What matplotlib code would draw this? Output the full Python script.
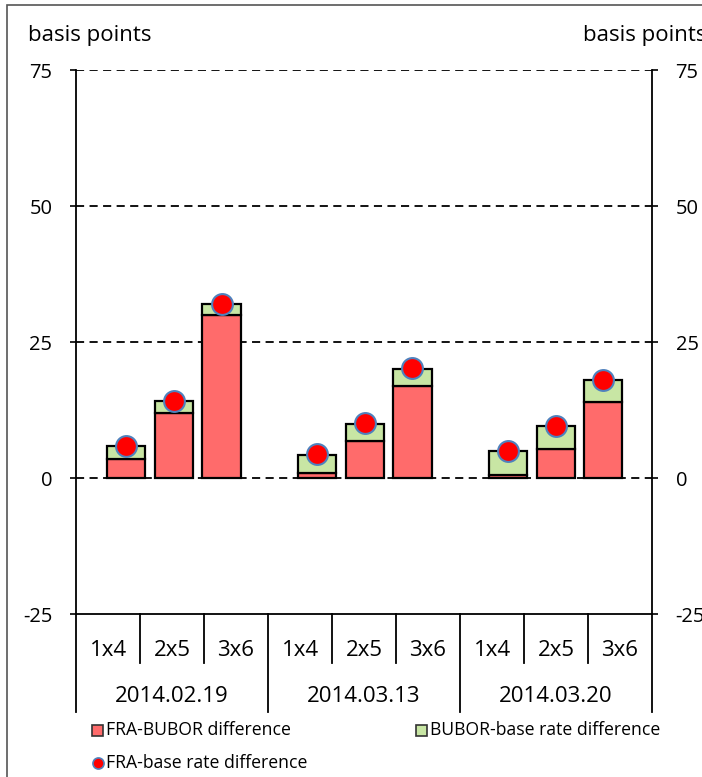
import numpy as np
import matplotlib
matplotlib.use('Agg')
import matplotlib.pyplot as plt
from matplotlib.patches import Rectangle
from matplotlib.lines import Line2D

plt.rcParams['font.family'] = ['Open Sans', 'DejaVu Sans']
plt.rcParams['axes.unicode_minus'] = False

# data (basis points)
tenors = ['1x4', '2x5', '3x6', '1x4', '2x5', '3x6', '1x4', '2x5', '3x6']
dates = ['2014.02.19', '2014.03.13', '2014.03.20']
fra_bubor = [3.5, 12.0, 29.9, 1.0, 6.8, 16.9, 0.6, 5.4, 13.9]
bubor_base = [2.3, 2.2, 2.1, 3.3, 3.2, 3.2, 4.3, 4.1, 4.1]
fra_base = [5.8, 14.2, 32.0, 4.4, 10.1, 20.2, 4.9, 9.6, 18.1]
yticks = [-25, 0, 25, 50, 75]

red = '#FF6B6B'
green = '#C8E6A4'
dot_edge = '#4F81BD'

W, H = 702, 777
fig = plt.figure(figsize=(W / 100, H / 100), dpi=100)

# axes box in pixels: x 76..652, y 70..614
ax = fig.add_axes([76 / W, 1 - 614 / H, (652 - 76) / W, (614 - 70) / H])

# bars sit on slots with an empty slot before every group
pos = np.array([0, 1, 2, 4, 5, 6, 8, 9, 10])
ax.bar(pos, fra_bubor, width=0.8, color=red, edgecolor='black', linewidth=1.6, zorder=2)
ax.bar(pos, bubor_base, width=0.8, bottom=fra_bubor, color=green, edgecolor='black',
       linewidth=1.6, zorder=2)
ax.plot(pos, fra_base, 'o', color='#FF0000', markersize=15, markeredgecolor=dot_edge,
        markeredgewidth=1.5, zorder=3)

ax.set_xlim(-1.05, 11.02)
ax.set_ylim(-25, 75)

for y in yticks[1:]:
    ax.axhline(y, color='black', linewidth=1.3, linestyle=(0, (4.5, 3)), zorder=1)

ax.set_yticks(yticks)
ax.set_xticks([])
ax.tick_params(axis='y', which='both', direction='out', length=4, width=1.2,
               labelsize=14.5, left=True, right=True, labelleft=True, labelright=True,
               pad=13)
ax.spines['top'].set_visible(False)
for s in ['left', 'right', 'bottom']:
    ax.spines[s].set_linewidth(1.3)

# category table under the axis
short_y = -(663 - 614) / 544
long_y = -(712 - 614) / 544
for k in range(10):
    yb = long_y if k % 3 == 0 else short_y
    ax.add_line(Line2D([k / 9, k / 9], [0, yb], transform=ax.transAxes, color='black',
                       linewidth=1.3, clip_on=False))
for k, t in enumerate(tenors):
    ax.text((k + 0.5) / 9, -(650 - 614) / 544, t, transform=ax.transAxes,
            ha='center', va='center', fontsize=16)
for g, d in enumerate(dates):
    ax.text((3 * g + 1.5) / 9, -(697 - 614) / 544, d, transform=ax.transAxes,
            ha='center', va='center', fontsize=16)

# axis titles
fig.text(28 / W, 1 - 36 / H, 'basis points', ha='left', va='center', fontsize=16)
fig.text(583 / W, 1 - 36 / H, 'basis points', ha='left', va='center', fontsize=16)

# outer frame
fig.add_artist(Rectangle((7 / W, -0.1), 2, 1 - 5 / H + 0.1, transform=fig.transFigure,
                         fill=False, edgecolor='#555555', linewidth=1.2))

# legend drawn by hand
def square(x, y, color):
    fig.add_artist(Rectangle((x / W, 1 - (y + 5.5) / H), 11 / W, 11 / H,
                             transform=fig.transFigure, facecolor=color,
                             edgecolor='#333333', linewidth=1.2))

square(92, 730, red)
fig.text(106 / W, 1 - 730 / H, 'FRA-BUBOR difference', ha='left', va='center', fontsize=12.7)
square(416, 730, green)
fig.text(430 / W, 1 - 730 / H, 'BUBOR-base rate difference', ha='left', va='center', fontsize=12.7)
fig.add_artist(Line2D([97.5 / W], [1 - 763 / H], transform=fig.transFigure, marker='o',
                      color='#FF0000', markersize=8, markeredgecolor=dot_edge,
                      markeredgewidth=1.2, linestyle='none'))
fig.text(106 / W, 1 - 763 / H, 'FRA-base rate difference', ha='left', va='center', fontsize=12.7)

fig.savefig('out.png', dpi=100)
